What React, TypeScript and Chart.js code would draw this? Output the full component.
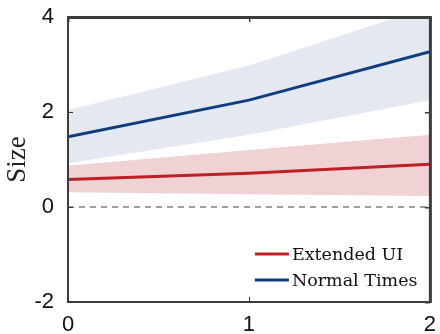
import React, { useEffect, useRef } from "react";
import { Chart, registerables } from "chart.js";
Chart.register(...registerables);

const xs = [0, 1, 2];
const normalMean = [1.48, 2.25, 3.27];
const normalUpper = [2.04, 2.98, 4.22];
const normalLower = [0.92, 1.52, 2.25];
const extMean = [0.58, 0.71, 0.9];
const extUpper = [0.87, 1.2, 1.52];
const extLower = [0.31, 0.27, 0.23];
const zeroLine = [0, 0, 0];
const seriesLabels = ["Extended UI", "Normal Times"];
const yTicks = [-2, 0, 2, 4];
const xTicks = [0, 1, 2];

const RED = "rgb(190,32,38)";
const BLUE = "rgb(14,62,128)";
const RED_BAND = "rgb(240,210,212)";
const BLUE_BAND = "rgb(228,233,241)";
const FRAME = "#3c3c3c";

const pts = (ys: number[]) => xs.map((x, i) => ({ x, y: ys[i] }));

const framePlugin = {
  id: "frame",
  afterDraw(chart: any) {
    const { ctx, chartArea: a, scales } = chart;
    ctx.save();
    ctx.fillStyle = FRAME;
    // same geometry as a test fill that did render
    ctx.fillRect(a.left - 1, a.top - 1, a.right - a.left + 2, 3);
    ctx.fillRect(a.right - 1, a.top - 1, 3, a.bottom - a.top + 2);
    ctx.fillRect(a.left - 1, a.bottom - 1, a.right - a.left + 2, 2);
    ctx.fillRect(a.left - 1, a.top - 1, 2, a.bottom - a.top + 2);
    const tl = 5;
    xTicks.forEach((v) => {
      const px = Math.round(scales.x.getPixelForValue(v));
      ctx.fillRect(px, a.bottom - tl, 1, tl);
      ctx.fillRect(px, a.top, 1.5, tl);
    });
    yTicks.forEach((v) => {
      const py = Math.round(scales.y.getPixelForValue(v));
      ctx.fillRect(a.left, py, tl, 1);
      ctx.fillRect(a.right - tl, py, tl, 1.5);
    });
    const colors = [RED, BLUE];
    const lx = a.right - 175;
    const ly = a.bottom - 48;
    ctx.font = "17.5px 'DejaVu Serif', serif";
    ctx.textBaseline = "middle";
    seriesLabels.forEach((lab, i) => {
      const y = ly + i * 26;
      ctx.strokeStyle = colors[i];
      ctx.lineWidth = 3;
      ctx.beginPath();
      ctx.moveTo(lx, y); ctx.lineTo(lx + 34, y);
      ctx.stroke();
      ctx.fillStyle = "#111";
      ctx.fillText(lab, lx + 37, y + 1);
    });
    ctx.restore();
  },
};

const tickFont = { family: "'Liberation Sans', Arial, sans-serif", size: 22, lineHeight: 1 };

export default function App() {
  const ref = useRef<HTMLCanvasElement>(null);
  useEffect(() => {
    const chart = new Chart(ref.current!, {
      type: "line",
      data: {
        datasets: [
          { label: "nl", data: pts(normalLower), borderWidth: 0, pointRadius: 0, fill: false, backgroundColor: BLUE_BAND, order: 5 },
          { label: "nu", data: pts(normalUpper), borderWidth: 0, pointRadius: 0, fill: "-1", backgroundColor: BLUE_BAND, order: 5 },
          { label: "el", data: pts(extLower), borderWidth: 0, pointRadius: 0, fill: false, backgroundColor: RED_BAND, order: 4 },
          { label: "eu", data: pts(extUpper), borderWidth: 0, pointRadius: 0, fill: "-1", backgroundColor: RED_BAND, order: 4 },
          { label: "zero", data: pts(zeroLine), borderColor: "#808080", borderWidth: 1.5, borderDash: [6, 5], pointRadius: 0, fill: false, order: 3 },
          { label: seriesLabels[0], data: pts(extMean), borderColor: RED, borderWidth: 3, pointRadius: 0, fill: false, order: 1 },
          { label: seriesLabels[1], data: pts(normalMean), borderColor: BLUE, borderWidth: 3, pointRadius: 0, fill: false, order: 0 },
        ],
      },
      options: {
        animation: false,
        responsive: true,
        maintainAspectRatio: false,
        layout: { padding: { top: 14, right: 8, left: 0, bottom: 0 } },
        plugins: { legend: { display: false }, tooltip: { enabled: false } },
        scales: {
          x: {
            type: "linear",
            min: 0,
            max: 2,
            afterBuildTicks: (s: any) => { s.ticks = xTicks.map((v) => ({ value: v })); },
            grid: { display: false },
            border: { display: false },
            ticks: { color: "#111", font: tickFont, padding: 4, maxRotation: 0 },
            afterFit: (s: any) => { s.height = 32; },
          },
          y: {
            min: -2,
            max: 4,
            afterBuildTicks: (s: any) => { s.ticks = yTicks.map((v) => ({ value: v })); },
            grid: { display: false },
            border: { display: false },
            ticks: { color: "#111", font: tickFont, padding: 6 },
            title: { display: true, text: "Size", color: "#222", font: { family: "'Liberation Serif', serif", size: 27 }, padding: 2 },
            afterFit: (s: any) => { s.width = 68; },
          },
        },
      },
      plugins: [framePlugin],
    } as any);
    return () => chart.destroy();
  }, []);
  return (
    <div style={{ position: "fixed", left: 0, top: 0, width: 440, height: 334, background: "#fff" }}>
      <canvas ref={ref} />
    </div>
  );
}
